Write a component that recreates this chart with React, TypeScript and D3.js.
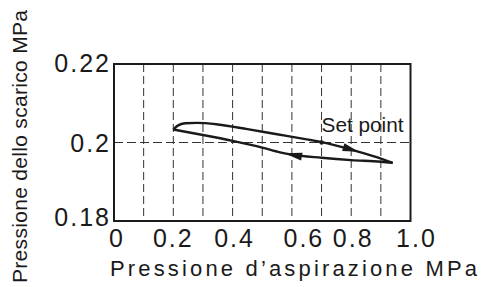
import React from "react";
import * as d3 from "d3";

const xTickValues = [0, 0.2, 0.4, 0.6, 0.8, 1.0];
const xTickLabels = ["0", "0.2", "0.4", "0.6", "0.8", "1.0"];
const yTickValues = [0.18, 0.2, 0.22];
const yTickLabels = ["0.18", "0.2", "0.22"];
const gridXValues = [0.1, 0.2, 0.3, 0.4, 0.5, 0.6, 0.7, 0.8, 0.9];
const gridYValues = [0.2];

// forward branch (increasing suction pressure)
const upperX = [0.2, 0.215, 0.24, 0.28, 0.35, 0.45, 0.55, 0.65, 0.7, 0.8, 0.88, 0.94];
const upperY = [0.2033, 0.2043, 0.2049, 0.205, 0.2046, 0.2034, 0.2021, 0.2008, 0.2001, 0.1982, 0.1964, 0.1948];
// return branch (decreasing suction pressure)
const lowerX = [0.94, 0.9, 0.8, 0.7, 0.6, 0.56, 0.5, 0.4, 0.3, 0.2];
const lowerY = [0.1948, 0.1951, 0.1955, 0.1961, 0.1969, 0.1975, 0.1987, 0.2004, 0.2019, 0.2033];

const setPointX = 0.7;
const setPointY = 0.2;
const setPointLabel = "Set point";
const xTitle = "Pressione d\u2019aspirazione  MPa";
const yTitle = "Pressione dello scarico  MPa";

// layout / style
const W = 485;
const H = 287;
const plot = { left: 114, right: 410.5, top: 64, bottom: 221 };
const xLabelNudge = [3, 0, 2, 12, 2, 6];
const yLabelNudge = [5, 9, 8];
const FONT = "'Liberation Sans', Arial, sans-serif";
const INK = "#1a1a1a";

export default function App() {
  const x = d3.scaleLinear().domain([0, 1]).range([plot.left, plot.right]);
  const y = d3.scaleLinear().domain([0.18, 0.22]).range([plot.bottom, plot.top]);

  const toPts = (xs: number[], ys: number[]) =>
    xs
      .map((v, i) => [x(v), y(ys[i])] as [number, number])
      .sort((a, b) => a[0] - b[0]);
  const upper = toPts(upperX, upperY);
  const lower = toPts(lowerX, lowerY);
  const line = d3.line().curve(d3.curveMonotoneX);

  // arrowhead on a branch; dir = +1 points to increasing x, -1 to decreasing x
  const arrow = (pts: [number, number][], xv: number, dir: number, len: number, hw: number) => {
    const px = x(xv);
    let i = 0;
    for (; i < pts.length - 2; i++) {
      if (px <= pts[i + 1][0]) break;
    }
    const [x0, y0] = pts[i];
    const [x1, y1] = pts[i + 1];
    const t = (px - x0) / (x1 - x0);
    const py = y0 + t * (y1 - y0);
    const ang = Math.atan2((y1 - y0) * dir, (x1 - x0) * dir);
    const c = Math.cos(ang), s = Math.sin(ang);
    const bx = px - c * len, by = py - s * len;
    return `M${px},${py}L${bx - s * hw},${by + c * hw}L${bx + s * hw},${by - c * hw}Z`;
  };

  return (
    <svg
      width={W}
      height={H}
      style={{ position: "absolute", left: 0, top: 0, background: "#fff" }}
    >
      <rect x={0} y={0} width={W} height={H} fill="#fff" />
      {gridXValues.map((v) => (
        <line
          key={"gx" + v}
          x1={x(v)}
          x2={x(v)}
          y1={plot.top}
          y2={plot.bottom}
          stroke="#333"
          strokeWidth={1}
          strokeDasharray="8,4"
        />
      ))}
      {gridYValues.map((v) => (
        <line
          key={"gy" + v}
          x1={plot.left}
          x2={plot.right}
          y1={y(v)}
          y2={y(v)}
          stroke="#333"
          strokeWidth={1}
          strokeDasharray="9,4"
        />
      ))}
      <rect
        x={plot.left}
        y={plot.top}
        width={plot.right - plot.left}
        height={plot.bottom - plot.top}
        fill="none"
        stroke={INK}
        strokeWidth={2}
      />
      <path d={line(upper) || ""} fill="none" stroke={INK} strokeWidth={2.4} strokeLinejoin="round" />
      <path d={line(lower) || ""} fill="none" stroke={INK} strokeWidth={2.4} strokeLinejoin="round" />
      <path d={arrow(upper, 0.825, 1, 16, 4)} fill={INK} />
      <path d={arrow(lower, 0.574, -1, 18, 4)} fill={INK} />
      <circle cx={x(setPointX)} cy={y(setPointY)} r={2.2} fill={INK} />
      <text
        x={x(setPointX)}
        y={132}
        fontFamily={FONT}
        fontSize={20}
        fill={INK}
        textLength={82}
        lengthAdjust="spacingAndGlyphs"
      >
        {setPointLabel}
      </text>
      {xTickValues.map((v, i) => (
        <text
          key={"xt" + v}
          x={x(v) + xLabelNudge[i]}
          y={247}
          textAnchor="middle"
          fontFamily={FONT}
          fontSize={25}
          fill={INK}
          style={{ letterSpacing: "2px" }}
        >
          {xTickLabels[i]}
        </text>
      ))}
      {yTickValues.map((v, i) => (
        <text
          key={"yt" + v}
          x={111}
          y={y(v) + yLabelNudge[i]}
          textAnchor="end"
          fontFamily={FONT}
          fontSize={25}
          fill={INK}
          style={{ letterSpacing: "2px" }}
        >
          {yTickLabels[i]}
        </text>
      ))}
      <text
        x={110}
        y={276}
        fontFamily={FONT}
        fontSize={22}
        fill={INK}
        textLength={367}
        lengthAdjust="spacing"
      >
        {xTitle}
      </text>
      <text
        transform="translate(27,283) rotate(-90)"
        fontFamily={FONT}
        fontSize={21}
        fill={INK}
        textLength={273}
        lengthAdjust="spacing"
      >
        {yTitle}
      </text>
    </svg>
  );
}
